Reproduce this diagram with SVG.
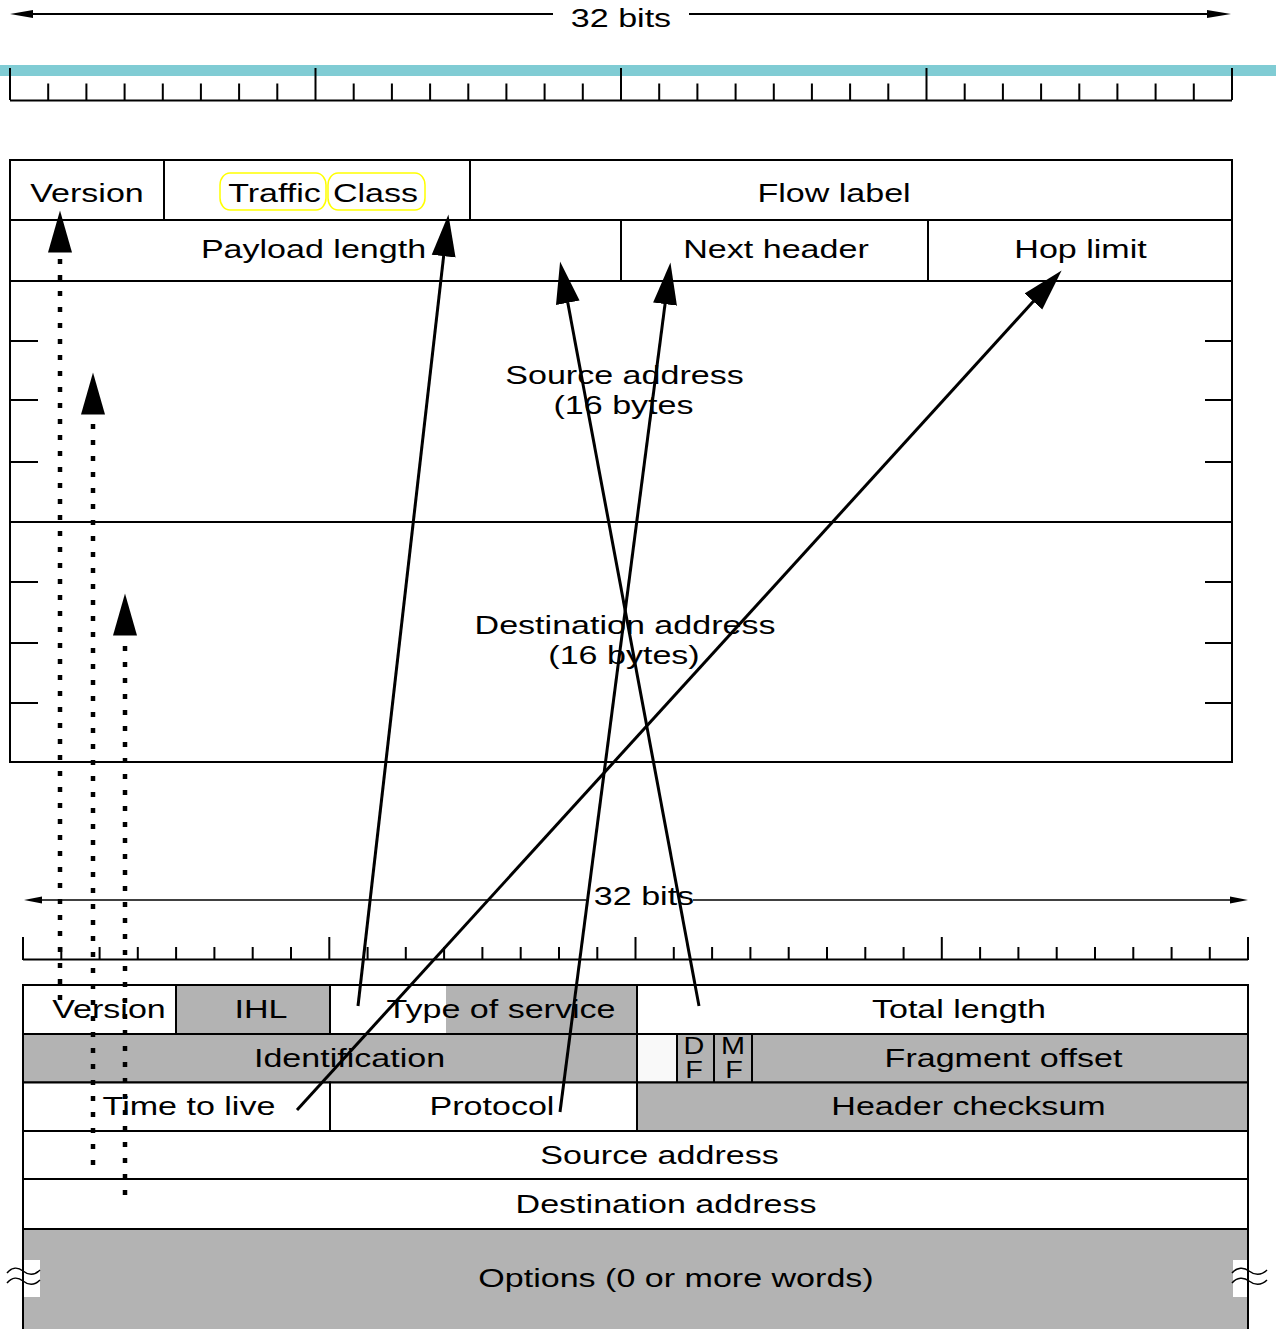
<svg xmlns="http://www.w3.org/2000/svg" width="1276" height="1329" viewBox="0 0 1276 1329">
  <style>
    .t { font-family: "Liberation Sans", Arial, Helvetica, sans-serif; font-size: 26px; text-anchor: middle; fill: #000; }
    .ts { font-family: "Liberation Sans", Arial, Helvetica, sans-serif; font-size: 24px; text-anchor: middle; fill: #000; }
    .cell { fill: #fff; stroke: #000; stroke-width: 2; }
    .grey { fill: #b3b3b3; stroke: #000; stroke-width: 2; }
    .thin { stroke: #000; stroke-width: 1.5; fill: none; }
    .rule { stroke: #000; stroke-width: 2; fill: none; }
    .tc { fill: none; stroke: #ffff00; stroke-width: 1.5; }
    .conn { stroke: #000; stroke-width: 3; fill: none; marker-end: url(#head); }
    .dot { stroke: #000; stroke-width: 4.5; fill: none; stroke-dasharray: 5 11; marker-end: url(#head); }
    .wave { stroke: #000; stroke-width: 1.5; fill: none; }
  </style>
  <defs>
    <marker id="head" markerUnits="userSpaceOnUse" markerWidth="44" markerHeight="26" viewBox="0 -13 44 26" refX="0.5" refY="0" orient="auto">
      <path d="M0,-12 L42,0 L0,12 Z" fill="#000"/>
    </marker>
  </defs>

  <rect width="1276" height="1329" fill="#fff"/>

  <!-- top width indicator -->
  <g id="width-top">
    <line class="rule" x1="32" y1="14" x2="553" y2="14"/>
    <path d="M10,14 L33,10 L33,18 Z" fill="#000"/>
    <line class="rule" x1="689" y1="14" x2="1208" y2="14"/>
    <path d="M1231,14 L1207,10 L1207,18 Z" fill="#000"/>
    <text class="t" transform="translate(621 26.7) scale(1.31 1)">32 bits</text>
  </g>

  <!-- top bit ruler -->
  <g id="ruler-top">
    <rect x="0" y="65" width="1276" height="11" fill="#80ccd4"/>
    <line class="rule" x1="10" y1="100.5" x2="1232" y2="100.5"/>
    <path class="rule" d="M10,68V100 M315.5,68V100 M621,68V100 M926.5,68V100 M1232,68V100"/>
    <path class="rule" d="M48.2,83.5V100 M86.4,83.5V100 M124.6,83.5V100 M162.8,83.5V100 M200.9,83.5V100 M239.1,83.5V100 M277.3,83.5V100
      M353.7,83.5V100 M391.9,83.5V100 M430.1,83.5V100 M468.3,83.5V100 M506.4,83.5V100 M544.6,83.5V100 M582.8,83.5V100
      M659.2,83.5V100 M697.4,83.5V100 M735.6,83.5V100 M773.8,83.5V100 M811.9,83.5V100 M850.1,83.5V100 M888.3,83.5V100
      M964.7,83.5V100 M1002.9,83.5V100 M1041.1,83.5V100 M1079.3,83.5V100 M1117.4,83.5V100 M1155.6,83.5V100 M1193.8,83.5V100"/>
  </g>

  <!-- IPv6 header -->
  <g id="v6-version">
    <rect class="cell" x="10" y="160" width="154" height="60"/>
    <text class="t" transform="translate(87 201.5) scale(1.31 1)">Version</text>
  </g>
  <g id="v6-traffic-class">
    <rect class="cell" x="164" y="160" width="306" height="60"/>
    <rect class="tc" x="220" y="173" width="106" height="37" rx="10" ry="12"/>
    <rect class="tc" x="328" y="173" width="97" height="37" rx="10" ry="12"/>
    <text class="t" transform="translate(274.5 201.5) scale(1.31 1)">Traffic</text>
    <text class="t" transform="translate(375.5 201.5) scale(1.31 1)">Class</text>
  </g>
  <g id="v6-flow-label">
    <rect class="cell" x="470" y="160" width="762" height="60"/>
    <text class="t" transform="translate(834 201.5) scale(1.31 1)">Flow label</text>
  </g>
  <g id="v6-payload-length">
    <rect class="cell" x="10" y="220" width="611" height="61"/>
    <text class="t" transform="translate(313.5 257.5) scale(1.31 1)">Payload length</text>
  </g>
  <g id="v6-next-header">
    <rect class="cell" x="621" y="220" width="307" height="61"/>
    <text class="t" transform="translate(776 257.5) scale(1.31 1)">Next header</text>
  </g>
  <g id="v6-hop-limit">
    <rect class="cell" x="928" y="220" width="304" height="61"/>
    <text class="t" transform="translate(1080.5 257.5) scale(1.31 1)">Hop limit</text>
  </g>
  <g id="v6-source-address">
    <rect class="cell" x="10" y="281" width="1222" height="241"/>
    <path class="rule" d="M10,341H38 M10,400H38 M10,462H38 M1205,341H1232 M1205,400H1232 M1205,462H1232"/>
    <text class="t" transform="translate(624.5 384) scale(1.31 1)">Source address</text>
    <text class="t" transform="translate(623.5 414) scale(1.31 1)">(16 bytes</text>
  </g>
  <g id="v6-destination-address">
    <rect class="cell" x="10" y="522" width="1222" height="240"/>
    <path class="rule" d="M10,582H38 M10,643H38 M10,703H38 M1205,582H1232 M1205,643H1232 M1205,703H1232"/>
    <text class="t" transform="translate(625 634) scale(1.31 1)">Destination address</text>
    <text class="t" transform="translate(624 664) scale(1.31 1)">(16 bytes)</text>
  </g>

  <!-- bottom width indicator -->
  <g id="width-bottom">
    <line class="thin" x1="40" y1="900" x2="586" y2="900"/>
    <path d="M24,900 L42,896.5 L42,903.5 Z" fill="#000"/>
    <line class="thin" x1="693" y1="900" x2="1232" y2="900"/>
    <path d="M1248,900 L1230,896.5 L1230,903.5 Z" fill="#000"/>
    <text class="t" transform="translate(644 905) scale(1.31 1)">32 bits</text>
  </g>

  <!-- bottom bit ruler -->
  <g id="ruler-bottom">
    <line class="rule" x1="23" y1="959.5" x2="1248" y2="959.5"/>
    <path class="rule" d="M23,937V960 M329.3,937V960 M635.5,937V960 M941.8,937V960 M1248,937V960"/>
    <path class="rule" d="M61.3,947V960 M99.6,947V960 M137.8,947V960 M176.1,947V960 M214.4,947V960 M252.7,947V960 M291,947V960
      M367.6,947V960 M405.8,947V960 M444.1,947V960 M482.4,947V960 M520.7,947V960 M559,947V960 M597.3,947V960
      M673.8,947V960 M712.1,947V960 M750.4,947V960 M788.7,947V960 M827,947V960 M865.3,947V960 M903.6,947V960
      M980.1,947V960 M1018.4,947V960 M1056.7,947V960 M1095,947V960 M1133.3,947V960 M1171.6,947V960 M1209.8,947V960"/>
  </g>

  <!-- IPv4 header -->
  <g id="v4-version">
    <rect class="cell" x="23" y="985" width="153" height="49"/>
    <text class="t" transform="translate(109 1017.5) scale(1.31 1)">Version</text>
  </g>
  <g id="v4-ihl">
    <rect class="grey" x="176" y="985" width="154" height="49"/>
    <text class="t" transform="translate(261 1017.5) scale(1.31 1)">IHL</text>
  </g>
  <g id="v4-type-of-service">
    <rect class="cell" x="330" y="985" width="307" height="49"/>
    <rect x="446" y="986" width="190" height="47" fill="#b3b3b3"/>
    <text class="t" transform="translate(501 1017.5) scale(1.31 1)">Type of service</text>
  </g>
  <g id="v4-total-length">
    <rect class="cell" x="637" y="985" width="611" height="49"/>
    <text class="t" transform="translate(959 1017.5) scale(1.31 1)">Total length</text>
  </g>
  <g id="v4-identification">
    <rect class="grey" x="23" y="1034" width="614" height="48.5"/>
    <text class="t" transform="translate(349.5 1067.3) scale(1.31 1)">Identification</text>
  </g>
  <g id="v4-flag-reserved">
    <rect x="637" y="1034" width="40" height="48.5" fill="#f9f9f9" stroke="#000" stroke-width="2"/>
  </g>
  <g id="v4-df">
    <rect class="grey" x="677" y="1034" width="37" height="48.5" stroke-width="1.5"/>
    <text class="ts" transform="translate(694 1054.3) scale(1.2 1)">D</text>
    <text class="ts" transform="translate(694 1077.7) scale(1.2 1)">F</text>
  </g>
  <g id="v4-mf">
    <rect class="grey" x="714" y="1034" width="38" height="48.5" stroke-width="1.5"/>
    <text class="ts" transform="translate(733 1054.3) scale(1.2 1)">M</text>
    <text class="ts" transform="translate(734 1077.7) scale(1.2 1)">F</text>
  </g>
  <g id="v4-fragment-offset">
    <rect class="grey" x="752" y="1034" width="496" height="48.5"/>
    <text class="t" transform="translate(1003.5 1067.3) scale(1.31 1)">Fragment offset</text>
  </g>
  <g id="v4-time-to-live">
    <rect class="cell" x="23" y="1082.5" width="307" height="48.5"/>
    <text class="t" transform="translate(189 1115) scale(1.31 1)">Time to live</text>
  </g>
  <g id="v4-protocol">
    <rect class="cell" x="330" y="1082.5" width="307" height="48.5"/>
    <text class="t" transform="translate(492 1115) scale(1.31 1)">Protocol</text>
  </g>
  <g id="v4-header-checksum">
    <rect class="grey" x="637" y="1082.5" width="611" height="48.5"/>
    <text class="t" transform="translate(968.5 1115) scale(1.31 1)">Header checksum</text>
  </g>
  <g id="v4-source-address">
    <rect class="cell" x="23" y="1131" width="1225" height="48"/>
    <text class="t" transform="translate(659.5 1164) scale(1.31 1)">Source address</text>
  </g>
  <g id="v4-destination-address">
    <rect class="cell" x="23" y="1179" width="1225" height="50"/>
    <text class="t" transform="translate(666 1213) scale(1.31 1)">Destination address</text>
  </g>
  <g id="v4-options">
    <rect x="23" y="1229" width="1225" height="110" fill="#b3b3b3"/>
    <rect x="24" y="1260" width="16" height="37" fill="#fff"/>
    <rect x="1233" y="1260" width="14" height="37" fill="#fff"/>
    <rect x="23" y="1229" width="1225" height="110" fill="none" stroke="#000" stroke-width="2"/>
    <path class="wave" d="M7,1273 C12,1267 18,1267 23,1271 S34,1276 40,1270"/>
    <path class="wave" d="M7,1283 C12,1277 18,1277 23,1281 S34,1286 40,1280"/>
    <path class="wave" d="M1232,1273 C1237,1267 1244,1267 1249,1271 S1261,1276 1267,1270"/>
    <path class="wave" d="M1232,1283 C1237,1277 1244,1277 1249,1281 S1261,1286 1267,1280"/>
    <text class="t" transform="translate(676 1287) scale(1.31 1)">Options (0 or more words)</text>
  </g>

  <!-- field mappings -->
  <g id="connectors">
    <line class="dot" x1="60" y1="1000" x2="60" y2="252"/>
    <line class="dot" x1="93" y1="1165" x2="93" y2="414"/>
    <line class="dot" x1="125" y1="1195" x2="125" y2="635"/>
    <line class="conn" x1="358" y1="1006" x2="443.7" y2="255.7"/>
    <line class="conn" x1="699" y1="1006" x2="567.7" y2="302.3"/>
    <line class="conn" x1="560" y1="1112" x2="665.1" y2="303.6"/>
    <line class="conn" x1="297" y1="1110" x2="1033.7" y2="301.1"/>
  </g>
</svg>
